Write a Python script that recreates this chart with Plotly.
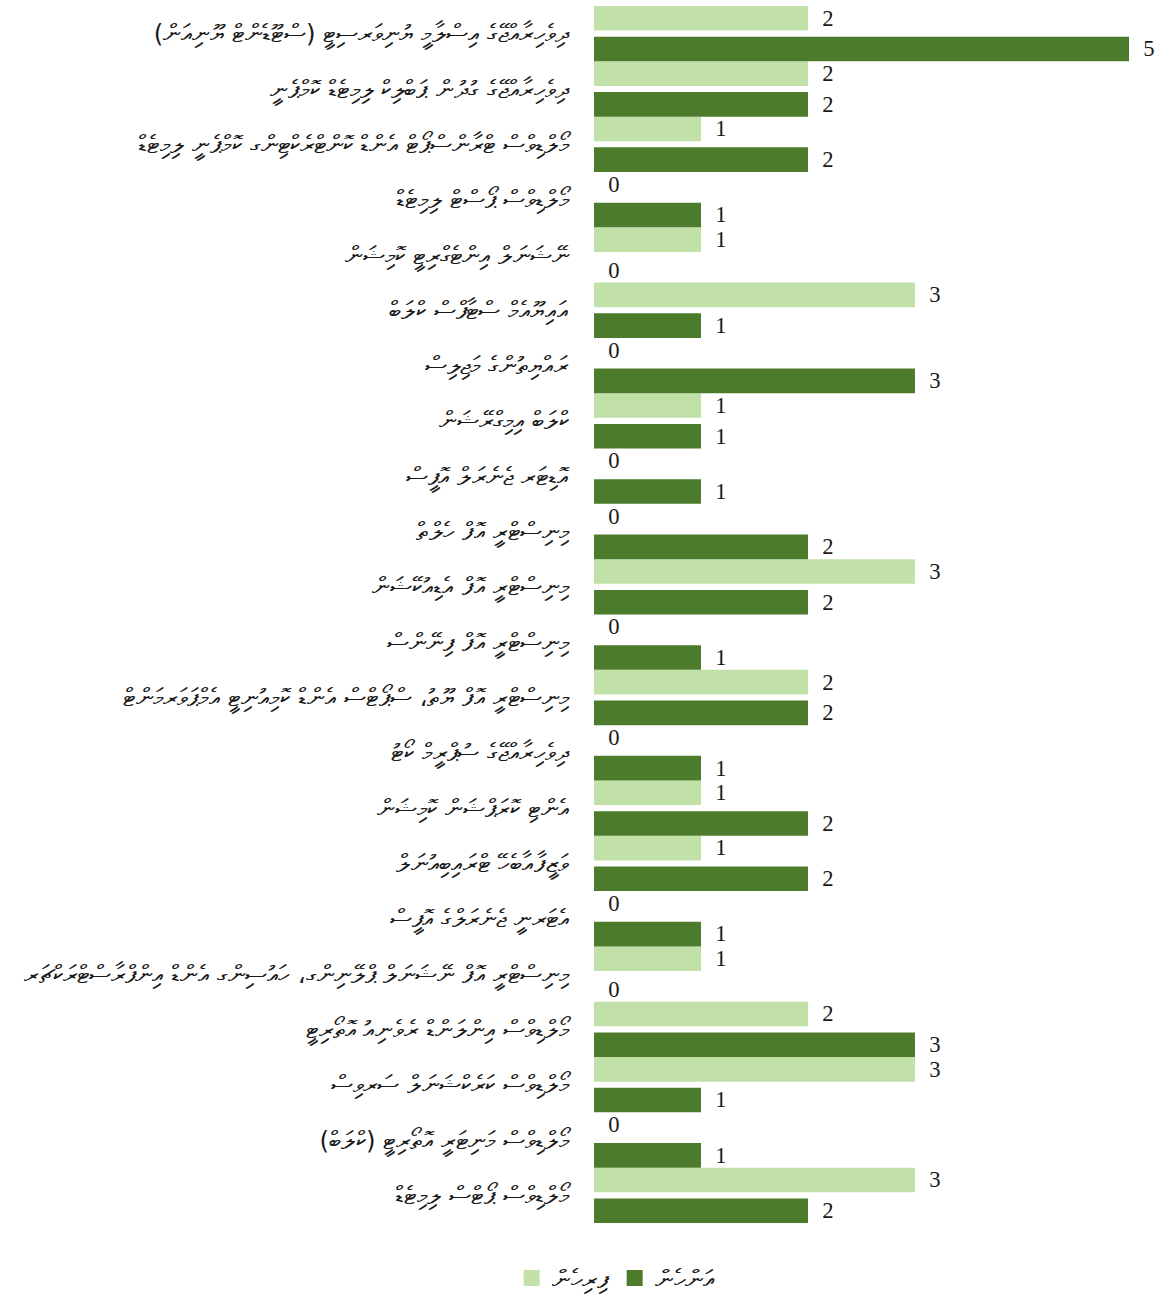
import plotly.graph_objects as go

categories = [
    "ދިވެހިރާއްޖޭގެ އިސްލާމީ ޔުނިވަރސިޓީ (ސްޓޫޑެންޓް ޔޫނިއަން)",
    "ދިވެހިރާއްޖޭގެ ގުދުން ޕަބްލިކް ލިމިޓެޑް ކޮމްޕެނީ",
    "މޯލްޑިވްސް ޓްރާންސްޕޯޓް އެންޑް ކޮންޓްރެކްޓިންގ ކޮމްޕެނީ ލިމިޓެޑް",
    "މޯލްޑިވްސް ޕޯސްޓް ލިމިޓެޑް",
    "ނޭޝަނަލް އިންޓެގްރިޓީ ކޮމިޝަން",
    "އައިޔޫއެމް ސްޓާފްސް ކްލަބް",
    "ރައްޔިތުންގެ މަޖިލިސް",
    "ކްލަބް އިމިގްރޭޝަން",
    "އޮޑިޓަރ ޖެނެރަލް އޮފީސް",
    "މިނިސްޓްރީ އޮފް ހެލްތް",
    "މިނިސްޓްރީ އޮފް އެޑިއުކޭޝަން",
    "މިނިސްޓްރީ އޮފް ފިނޭންސް",
    "މިނިސްޓްރީ އޮފް ޔޫތު، ސްޕޯޓްސް އެންޑް ކޮމިއުނިޓީ އެމްޕަވަރމަންޓް",
    "ދިވެހިރާއްޖޭގެ ސުޕްރީމް ކޯޓު",
    "އެންޓި ކޮރަޕްޝަން ކޮމިޝަން",
    "ވަޒީފާއާބެހޭ ޓްރައިބިއުނަލް",
    "އެޓަރނީ ޖެނެރަލްގެ އޮފީސް",
    "މިނިސްޓްރީ އޮފް ނޭޝަނަލް ޕްލޭނިންގ، ހައުސިންގ އެންޑް އިންފްރާސްޓްރަކްޗަރ",
    "މޯލްޑިވްސް އިންލަންޑް ރެވެނިއު އޮތޯރިޓީ",
    "މޯލްޑިވްސް ކަރެކްޝަނަލް ސަރވިސް",
    "މޯލްޑިވްސް މަނިޓަރީ އޮތޯރިޓީ (ކްލަބް)",
    "މޯލްޑިވްސް ޕޯޓްސް ލިމިޓެޑް",
]

male = [2, 2, 1, 0, 1, 3, 0, 1, 0, 0, 3, 0, 2, 0, 1, 1, 0, 1, 2, 3, 0, 3]
female = [5, 2, 2, 1, 0, 1, 3, 1, 1, 2, 2, 1, 2, 1, 2, 2, 1, 0, 3, 1, 1, 2]

series_names = ["ފިރިހެން", "އަންހެން"]
colors = ["#C2E1A9", "#4C7B2B"]

num_font = dict(family="Liberation Serif, Times New Roman, serif", size=23, color="#1a1a1a")
thaana_font = "DejaVu Sans, Noto Sans, sans-serif"
pad = "\u00a0\u00a0"

fig = go.Figure()
fig.add_trace(go.Bar(
    y=categories, x=male, orientation="h", name=series_names[0],
    marker=dict(color=colors[0], line=dict(width=0)),
    width=0.445, offset=-0.5, showlegend=False,
    text=[pad + str(v) for v in male], textposition="outside",
    textfont=num_font, cliponaxis=False,
))
fig.add_trace(go.Bar(
    y=categories, x=female, orientation="h", name=series_names[1],
    marker=dict(color=colors[1], line=dict(width=0)),
    width=0.445, offset=0.055, showlegend=False,
    text=[pad + str(v) for v in female], textposition="outside",
    textfont=num_font, cliponaxis=False,
))
for name, col in zip(series_names, colors):
    fig.add_trace(go.Scatter(
        x=[None], y=[None], mode="markers", name=name,
        marker=dict(symbol="square", size=16, color=col),
        showlegend=True,
    ))

fig.update_layout(
    width=1166, height=1295,
    barmode="overlay",
    plot_bgcolor="white", paper_bgcolor="white",
    margin=dict(l=594, r=37, t=6, b=72),
    showlegend=True,
    legend=dict(
        orientation="h", xref="container", yref="container",
        x=0.528, y=0.013, xanchor="center", yanchor="middle",
        font=dict(family=thaana_font, size=26, color="#1a1a1a"),
        traceorder="normal", itemwidth=30,
    ),
    xaxis=dict(range=[0, 5], visible=False, showgrid=False, zeroline=False),
    yaxis=dict(
        range=[21.5, -0.5], autorange=False, type="category", automargin=False,
        showgrid=False, zeroline=False, showline=False,
        ticks="", ticklabelstandoff=24,
        tickfont=dict(family=thaana_font, size=24.5, color="#1a1a1a"),
    ),
)

fig.write_html("out.html", config={"displayModeBar": False},
               post_script="document.body.style.margin='0';")
